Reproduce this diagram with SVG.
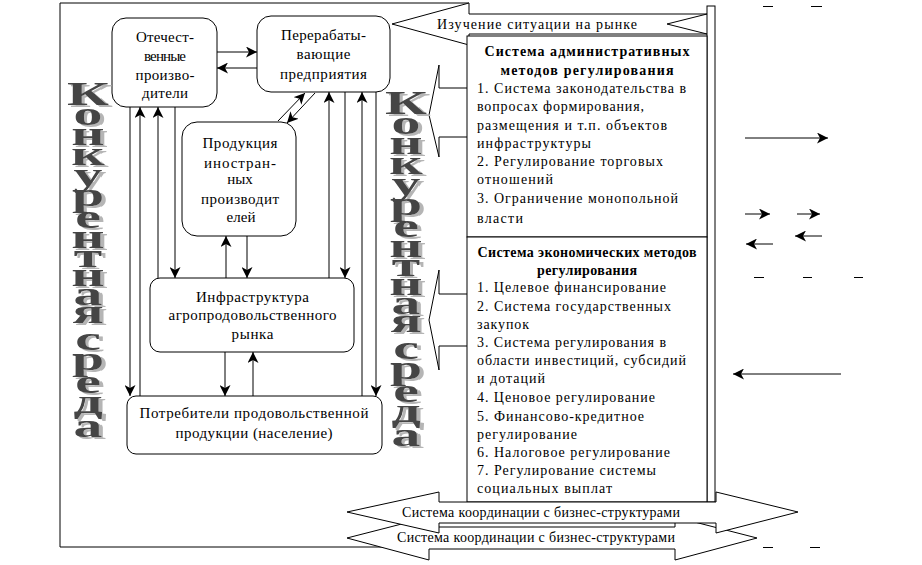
<svg xmlns="http://www.w3.org/2000/svg" width="922" height="565" viewBox="0 0 922 565">
<style>
.ln{fill:none;stroke:#000;stroke-width:1}
.box{fill:#fff;stroke:#000;stroke-width:1}
.arr{fill:none;stroke:#000;stroke-width:1;marker-end:url(#ah)}
.n{font-family:"Liberation Serif","Times New Roman",serif;font-size:15px;text-anchor:middle;fill:#000}
.t{font-family:"Liberation Serif","Times New Roman",serif;font-size:14px;fill:#000}
.tb{font-weight:bold;text-anchor:middle}
.tc{text-anchor:middle}
.wa{font-family:"Liberation Serif","Times New Roman",serif;font-weight:bold;font-size:33px;text-anchor:middle;fill:#444}
</style>
<defs>
<marker id="ah" viewBox="0 0 11 11" refX="11" refY="5.5" markerWidth="11" markerHeight="11" markerUnits="userSpaceOnUse" orient="auto">
<path d="M0,0 L11,5.5 L0,11 L3,5.5 Z" fill="#000"/>
</marker>
<filter id="sh" x="-30%" y="-5%" width="160%" height="115%">
<feOffset in="SourceAlpha" dx="2" dy="2" result="o"/>
<feFlood flood-color="#b5b5b5"/>
<feComposite in2="o" operator="in" result="s"/>
<feMerge><feMergeNode in="s"/><feMergeNode in="SourceGraphic"/></feMerge>
</filter>
</defs>
<rect width="922" height="565" fill="#fff"/>

<!-- outer frame -->
<polyline class="ln" points="469,3 60,3 60,547 420,547"/>

<!-- market study arrow -->
<g id="market-study">
<polygon class="box" points="392,24 469,3 469,14 707,14 667,24 707,34 469,34 469,45"/>
<text class="t tc" x="537" y="29" textLength="200" lengthAdjust="spacing">Изучение ситуации на рынке</text>
</g>

<!-- callouts -->
<g id="callouts">
<polyline class="ln" points="467,88 439,88 439,65 429,115 439,157 439,137 467,137"/>
<polyline class="ln" points="467,294 439,294 439,270 429,320 439,370 439,346 467,346"/>
</g>

<!-- right bar -->
<rect class="box" x="707" y="6" width="8" height="496"/>

<!-- admin box -->
<g id="admin">
<rect class="box" x="467" y="36" width="240" height="201"/>
<text class="t tb" x="587" y="56" textLength="205" lengthAdjust="spacing">Система административных</text>
<text class="t tb" x="587" y="75" textLength="173" lengthAdjust="spacing">методов регулирования</text>
<text class="t" x="477" y="93" textLength="209" lengthAdjust="spacing">1. Система законодательства в</text>
<text class="t" x="477" y="111" textLength="167" lengthAdjust="spacing">вопросах формирования,</text>
<text class="t" x="477" y="130" textLength="190" lengthAdjust="spacing">размещения и т.п. объектов</text>
<text class="t" x="477" y="148" textLength="114" lengthAdjust="spacing">инфраструктуры</text>
<text class="t" x="477" y="166" textLength="186" lengthAdjust="spacing">2. Регулирование торговых</text>
<text class="t" x="477" y="184" textLength="76" lengthAdjust="spacing">отношений</text>
<text class="t" x="477" y="203" textLength="201" lengthAdjust="spacing">3. Ограничение монопольной</text>
<text class="t" x="477" y="223" textLength="46" lengthAdjust="spacing">власти</text>
</g>

<!-- economic box -->
<g id="economic">
<rect class="box" x="467" y="237" width="240" height="265"/>
<text class="t tb" x="587" y="257" textLength="219" lengthAdjust="spacing">Система экономических методов</text>
<text class="t tb" x="587" y="275" textLength="100" lengthAdjust="spacing">регулирования</text>
<text class="t" x="477" y="292" textLength="189" lengthAdjust="spacing">1. Целевое финансирование</text>
<text class="t" x="477" y="311" textLength="194" lengthAdjust="spacing">2. Система государственных</text>
<text class="t" x="477" y="329" textLength="52" lengthAdjust="spacing">закупок</text>
<text class="t" x="477" y="347" textLength="189" lengthAdjust="spacing">3. Система регулирования в</text>
<text class="t" x="477" y="365" textLength="209" lengthAdjust="spacing">области инвестиций, субсидий</text>
<text class="t" x="477" y="383" textLength="68" lengthAdjust="spacing">и дотаций</text>
<text class="t" x="477" y="402" textLength="178" lengthAdjust="spacing">4. Ценовое регулирование</text>
<text class="t" x="477" y="421" textLength="167" lengthAdjust="spacing">5. Финансово-кредитное</text>
<text class="t" x="477" y="439" textLength="100" lengthAdjust="spacing">регулирование</text>
<text class="t" x="477" y="457" textLength="193" lengthAdjust="spacing">6. Налоговое регулирование</text>
<text class="t" x="477" y="475" textLength="179" lengthAdjust="spacing">7. Регулирование системы</text>
<text class="t" x="477" y="493" textLength="135" lengthAdjust="spacing">социальных выплат</text>
</g>

<!-- coordination arrows -->
<g id="coordination">
<polygon class="box" points="347,538 429,517 429,527 675,527 675,517 757,538 675,560 675,549 429,549 429,560"/>
<polygon class="box" points="347,512 439,492 439,502 716,502 716,492 798,512 716,533 716,523 439,523 439,533"/>
<text class="t tc" x="541" y="517" textLength="278" lengthAdjust="spacing">Система координации с бизнес-структурами</text>
<text class="t tc" x="536" y="542" textLength="278" lengthAdjust="spacing">Система координации с бизнес-структурами</text>
</g>

<!-- nodes -->
<g id="domestic">
<rect class="box" x="112" y="18" width="105" height="89" rx="14"/>
<text class="n" x="165" y="42" textLength="58" lengthAdjust="spacing">Отечест-</text>
<text class="n" x="165" y="61" textLength="42" lengthAdjust="spacing">венные</text>
<text class="n" x="165" y="80" textLength="59" lengthAdjust="spacing">произво-</text>
<text class="n" x="165" y="98" textLength="46" lengthAdjust="spacing">дители</text>
</g>
<g id="processing">
<rect class="box" x="257" y="16" width="133" height="76" rx="14"/>
<text class="n" x="323.5" y="40" textLength="85" lengthAdjust="spacing">Перерабаты-</text>
<text class="n" x="323.5" y="59" textLength="54" lengthAdjust="spacing">вающие</text>
<text class="n" x="323.5" y="79" textLength="87" lengthAdjust="spacing">предприятия</text>
</g>
<g id="foreign">
<rect class="box" x="182" y="122" width="114" height="114" rx="15"/>
<text class="n" x="240" y="148" textLength="75" lengthAdjust="spacing">Продукция</text>
<text class="n" x="240" y="168" textLength="72" lengthAdjust="spacing">иностран-</text>
<text class="n" x="240" y="184">ных</text>
<text class="n" x="240" y="204" textLength="78" lengthAdjust="spacing">производит</text>
<text class="n" x="241" y="222">елей</text>
</g>
<g id="infrastructure">
<rect class="box" x="150" y="278" width="204" height="74" rx="10"/>
<text class="n" x="252.5" y="302" textLength="113" lengthAdjust="spacing">Инфраструктура</text>
<text class="n" x="252.5" y="320" textLength="168" lengthAdjust="spacing">агропродовольственного</text>
<text class="n" x="252.5" y="339" textLength="42" lengthAdjust="spacing">рынка</text>
</g>
<g id="consumers">
<rect class="box" x="127" y="396" width="255" height="58" rx="9"/>
<text class="n" x="254" y="418" textLength="229" lengthAdjust="spacing">Потребители продовольственной</text>
<text class="n" x="254" y="438" textLength="157" lengthAdjust="spacing">продукции (население)</text>
</g>

<!-- connectors -->
<g id="connectors">
<line class="arr" x1="217" y1="52" x2="257" y2="52"/>
<line class="arr" x1="257" y1="68" x2="217" y2="68"/>
<line class="arr" x1="130" y1="107" x2="130" y2="396"/>
<line class="arr" x1="140" y1="396" x2="140" y2="107"/>
<line class="arr" x1="158" y1="278" x2="158" y2="107"/>
<line class="arr" x1="175" y1="107" x2="175" y2="278"/>
<line class="arr" x1="278" y1="121" x2="305" y2="93"/>
<line class="arr" x1="315" y1="93" x2="287" y2="123"/>
<line class="arr" x1="329" y1="278" x2="329" y2="92"/>
<line class="arr" x1="345" y1="92" x2="345" y2="278"/>
<line class="arr" x1="362" y1="396" x2="362" y2="92"/>
<line class="arr" x1="376" y1="92" x2="376" y2="396"/>
<line class="arr" x1="226" y1="278" x2="226" y2="236"/>
<line class="arr" x1="247" y1="236" x2="247" y2="278"/>
<line class="arr" x1="225" y1="352" x2="225" y2="396"/>
<line class="arr" x1="253" y1="396" x2="253" y2="352"/>
</g>

<!-- competitive environment word art -->
<g id="env-left" transform="translate(88,0) scale(1.75,1)">
<text class="wa" filter="url(#sh)"><tspan x="0" y="105">К</tspan><tspan x="0" y="125">о</tspan><tspan x="0" y="145">н</tspan><tspan x="0" y="165">к</tspan><tspan x="0" y="186">у</tspan><tspan x="0" y="206">р</tspan><tspan x="0" y="228">е</tspan><tspan x="0" y="248">н</tspan><tspan x="0" y="267">т</tspan><tspan x="0" y="286">н</tspan><tspan x="0" y="305">а</tspan><tspan x="0" y="323">я</tspan><tspan x="0" y="350">с</tspan><tspan x="0" y="370">р</tspan><tspan x="0" y="393">е</tspan><tspan x="0" y="413">д</tspan><tspan x="0" y="437">а</tspan></text>
</g>
<g id="env-right" transform="translate(406,0) scale(1.75,1)">
<text class="wa" filter="url(#sh)"><tspan x="0" y="114">К</tspan><tspan x="0" y="134">о</tspan><tspan x="0" y="154">н</tspan><tspan x="0" y="174">к</tspan><tspan x="0" y="195">у</tspan><tspan x="0" y="215">р</tspan><tspan x="0" y="237">е</tspan><tspan x="0" y="257">н</tspan><tspan x="0" y="276">т</tspan><tspan x="0" y="295">н</tspan><tspan x="0" y="314">а</tspan><tspan x="0" y="332">я</tspan><tspan x="0" y="359">с</tspan><tspan x="0" y="379">р</tspan><tspan x="0" y="402">е</tspan><tspan x="0" y="422">д</tspan><tspan x="0" y="446">а</tspan></text>
</g>

<!-- stray marks on the right -->
<g id="marks">
<line class="ln" x1="763" y1="6.5" x2="773" y2="6.5"/>
<line class="ln" x1="811" y1="6.5" x2="822" y2="6.5"/>
<line class="arr" x1="745" y1="138" x2="828" y2="138"/>
<line class="arr" x1="745" y1="214" x2="770" y2="214"/>
<line class="arr" x1="797" y1="214" x2="820" y2="214"/>
<line class="arr" x1="773" y1="244" x2="746" y2="244"/>
<line class="arr" x1="822" y1="236" x2="795" y2="236"/>
<line class="ln" x1="754" y1="277.5" x2="764" y2="277.5"/>
<line class="ln" x1="803" y1="277.5" x2="812" y2="277.5"/>
<line class="ln" x1="854" y1="277.5" x2="863" y2="277.5"/>
<line class="arr" x1="841" y1="374" x2="733" y2="374"/>
<line class="ln" x1="763" y1="547.5" x2="773" y2="547.5"/>
<line class="ln" x1="810" y1="547.5" x2="820" y2="547.5"/>
</g>
</svg>
